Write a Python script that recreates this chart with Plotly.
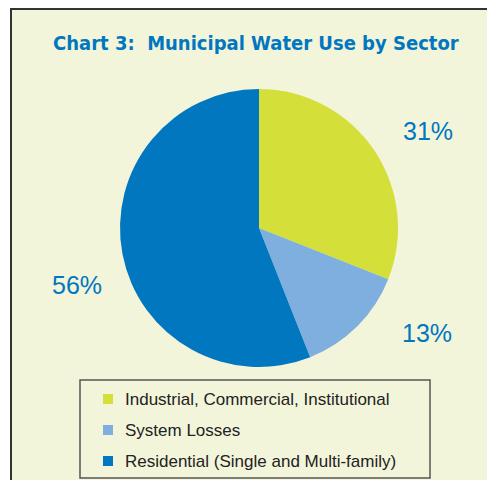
import plotly.graph_objects as go

title = "Chart 3:  Municipal Water Use by Sector"
sectors = ["Industrial, Commercial, Institutional", "System Losses", "Residential (Single and Multi-family)"]
shares = [31, 13, 56]
colors = ["#D5DF3A", "#7FAFDE", "#0077BF"]

W, H = 487, 480

def px(x):
    return x / W

def py(y):
    return 1 - y / H

cx, cy, r = 259, 228, 139

fig = go.Figure(go.Pie(
    labels=sectors,
    values=shares,
    marker=dict(colors=colors, line=dict(width=0)),
    sort=False,
    direction="clockwise",
    rotation=0,
    textinfo="none",
    hoverinfo="label+percent",
    showlegend=False,
    domain=dict(x=[px(cx - r), px(cx + r)], y=[py(cy + r), py(cy - r)]),
))

shapes = [
    # outer frame
    dict(type="rect", xref="paper", yref="paper", x0=px(11), x1=px(W + 20), y0=py(H + 20), y1=py(9),
         fillcolor="#F3F5DA", line=dict(color="#333333", width=2), layer="below"),
    # legend box
    dict(type="rect", xref="paper", yref="paper", x0=px(80), x1=px(430), y0=py(478), y1=py(380),
         fillcolor="rgba(0,0,0,0)", line=dict(color="#555555", width=1.5), layer="above"),
]

annotations = [
    dict(text="<b>" + title + "</b>", x=px(256), y=py(43), xref="paper", yref="paper",
         showarrow=False, xanchor="center", yanchor="middle",
         font=dict(family="DejaVu Sans Condensed, DejaVu Sans", size=20, color="#0077BF")),
]

label_pos = [(428, 131), (427, 333), (77, 285)]
for v, (lx, ly) in zip(shares, label_pos):
    annotations.append(dict(text=f"{v}%", x=px(lx), y=py(ly), xref="paper", yref="paper",
                            showarrow=False, xanchor="center", yanchor="middle",
                            font=dict(family="Liberation Sans, Arial", size=25, color="#0077BF")))

row_y = [399, 430, 461]
for name, col, ry in zip(sectors, colors, row_y):
    shapes.append(dict(type="rect", xref="paper", yref="paper", x0=px(103), x1=px(113),
                       y0=py(ry + 5), y1=py(ry - 5), fillcolor=col, line=dict(width=0)))
    annotations.append(dict(text=name, x=px(123), y=py(ry), xref="paper", yref="paper",
                            showarrow=False, xanchor="left", yanchor="middle",
                            font=dict(family="Liberation Sans, Arial", size=17, color="#222222")))

fig.update_layout(
    width=W, height=H,
    margin=dict(l=0, r=0, t=0, b=0),
    paper_bgcolor="white",
    plot_bgcolor="white",
    shapes=shapes,
    annotations=annotations,
)

fig.write_html("out.html", config=dict(displayModeBar=False),
               post_script="document.body.style.margin='0';document.body.style.overflow='hidden';")
